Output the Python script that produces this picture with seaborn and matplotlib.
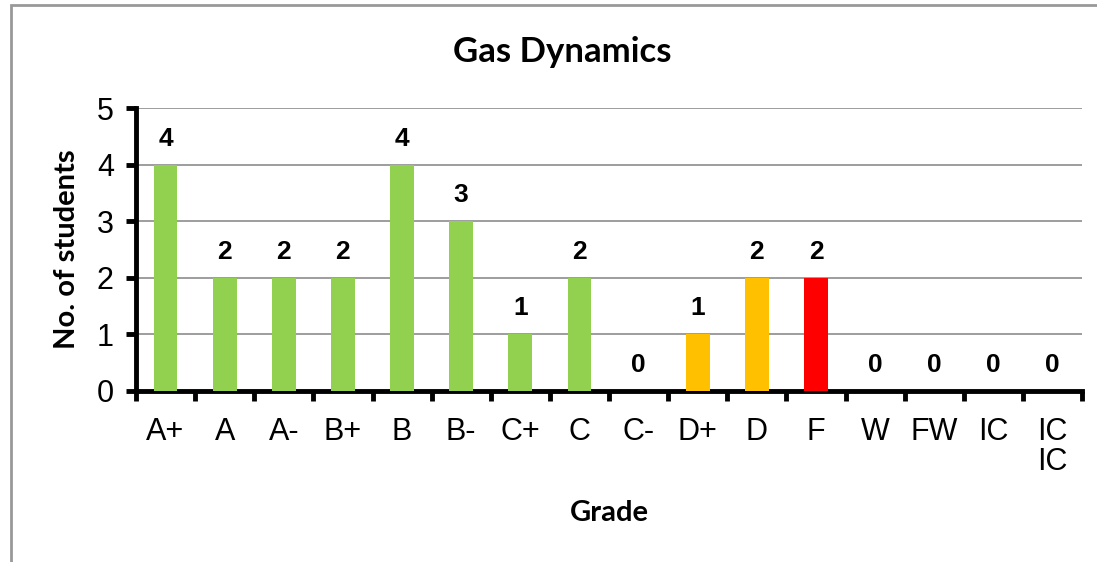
import matplotlib
matplotlib.use("Agg")
import matplotlib.pyplot as plt
import seaborn as sns
import pandas as pd
from matplotlib.patches import Rectangle

grades = ["A+", "A", "A-", "B+", "B", "B-", "C+", "C", "C-", "D+", "D", "F", "W", "FW", "IC", "IC\nIC"]
students = [4, 2, 2, 2, 4, 3, 1, 2, 0, 1, 2, 2, 0, 0, 0, 0]
bar_colors = ["#92D050"] * 9 + ["#FFC000", "#FFC000", "#FF0000"] + ["#92D050"] * 4

df = pd.DataFrame({"grade": grades, "students": students})

sns.set_style("white")
plt.rcParams["font.family"] = ["Liberation Sans", "DejaVu Sans"]
plt.rcParams["text.color"] = "black"
plt.rcParams["axes.labelcolor"] = "black"
plt.rcParams["xtick.color"] = "black"
plt.rcParams["ytick.color"] = "black"

fig = plt.figure(figsize=(10.97, 5.62), dpi=100)
ax = fig.add_axes([136 / 1097, 1 - 391 / 562, 946 / 1097, 283 / 562])

sns.barplot(data=df, x="grade", y="students", hue="grade", palette=bar_colors,
            legend=False, width=0.4, ax=ax, saturation=1, linewidth=0, zorder=3)

ax.set_ylim(0, 5)
ax.set_xlim(-0.5, len(grades) - 0.5)
ax.set_yticks(range(0, 6))
ax.yaxis.grid(True, color="#8c8c8c", linewidth=1.2, zorder=0)
ax.xaxis.grid(False)
ax.set_axisbelow(True)

for s in ["top", "right"]:
    ax.spines[s].set_visible(False)
for s in ["left", "bottom"]:
    ax.spines[s].set_color("black")
    ax.spines[s].set_linewidth(3.5)

ax.set_xticks(range(len(grades)))
ax.set_xticklabels(grades, fontsize=22, va="top", linespacing=1.0, color="black")
ax.tick_params(axis="x", which="major", length=0, pad=19, bottom=True)
ax.set_xticks([i - 0.5 for i in range(len(grades) + 1)], minor=True)
ax.tick_params(axis="x", which="minor", length=7, width=3.5, color="black",
               direction="out", bottom=True)
ax.tick_params(axis="y", which="major", length=7, width=3.5, color="black",
               labelsize=22, labelcolor="black", direction="out", pad=9, left=True)

for i, v in enumerate(students):
    ax.text(i, v + 0.46, str(v), ha="center", va="center", fontsize=19,
            fontweight="bold", color="black")

title_font = ["Lato", "DejaVu Sans"]
fig.text(562 / 1097, 1 - 52 / 562, "Gas Dynamics", ha="center", va="center", fontsize=25,
         fontweight="bold", family=title_font, color="black")

ax.set_ylabel("No. of students", fontsize=21, fontweight="bold", family=title_font, color="black")
ax.yaxis.set_label_coords((67 - 136) / 946, 0.5)
ax.yaxis.label.set_va("center")
ax.set_xlabel("Grade", fontsize=21, fontweight="bold", family=title_font, color="black")
ax.xaxis.set_label_coords(0.5, -(513 - 391) / 283)
ax.xaxis.label.set_va("center")

fig.patches.append(Rectangle((11 / 1097, -0.1), 1.2, (1 - 5 / 562) + 0.1, transform=fig.transFigure,
                             fill=False, edgecolor="#999999", linewidth=2, zorder=0))

fig.savefig("out.png", dpi=100)
